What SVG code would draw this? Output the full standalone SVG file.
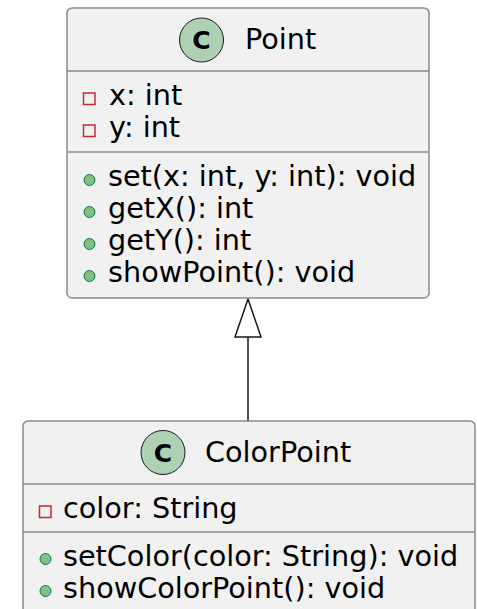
<svg xmlns="http://www.w3.org/2000/svg" width="477" height="609" viewBox="0 0 477 609">
<style>
.box{fill:#F1F1F1;stroke:#8a8a8a;stroke-width:1.5}
.sep{stroke:#8a8a8a;stroke-width:1.5}
.t{font-family:"DejaVu Sans",sans-serif;font-size:28.7px;fill:#000}
.ci{fill:#ADD1B2;stroke:#181818;stroke-width:1}
.cl{font-family:"DejaVu Sans",sans-serif;font-size:25px;font-weight:bold;fill:#000;text-anchor:middle}
.priv{fill:none;stroke:#C82930;stroke-width:1.5}
.pub{fill:#84BE84;stroke:#038048;stroke-width:1}
.edge{stroke:#181818;stroke-width:1.5;fill:none}
.head{fill:#fff;stroke:#181818;stroke-width:1.5}
</style>
<g id="connectors">
<line class="edge" x1="248" y1="337" x2="248" y2="421"/>
<polygon class="head" points="248,299 235,337 261,337"/>
</g>
<g id="Point">
<rect class="box" x="67" y="8" width="362" height="290" rx="5"/>
<line class="sep" x1="67" y1="71" x2="429" y2="71"/>
<line class="sep" x1="67" y1="152" x2="429" y2="152"/>
<circle class="ci" cx="201.5" cy="40" r="22"/>
<text class="cl" x="201.5" y="49">C</text>
<text class="t" x="245" y="49">Point</text>
<rect class="priv" x="83.5" y="93" width="11.5" height="11.5"/>
<text class="t" x="109" y="105">x: int</text>
<rect class="priv" x="83.5" y="125" width="11.5" height="11.5"/>
<text class="t" x="109" y="137">y: int</text>
<circle class="pub" cx="89.5" cy="180" r="5.5"/>
<text class="t" x="108" y="186">set(x: int, y: int): void</text>
<circle class="pub" cx="89.5" cy="212" r="5.5"/>
<text class="t" x="108" y="218">getX(): int</text>
<circle class="pub" cx="89.5" cy="244" r="5.5"/>
<text class="t" x="108" y="250">getY(): int</text>
<circle class="pub" cx="89.5" cy="276" r="5.5"/>
<text class="t" x="108" y="282">showPoint(): void</text>
</g>
<g id="ColorPoint">
<rect class="box" x="23" y="421" width="452" height="220" rx="5"/>
<line class="sep" x1="23" y1="484" x2="475" y2="484"/>
<line class="sep" x1="23" y1="532" x2="475" y2="532"/>
<circle class="ci" cx="163" cy="452.5" r="22"/>
<text class="cl" x="163" y="461.5">C</text>
<text class="t" x="205" y="462">ColorPoint</text>
<rect class="priv" x="39.5" y="506" width="11.5" height="11.5"/>
<text class="t" x="63" y="518">color: String</text>
<circle class="pub" cx="45.5" cy="559" r="5.5"/>
<text class="t" x="63" y="566">setColor(color: String): void</text>
<circle class="pub" cx="45.5" cy="591" r="5.5"/>
<text class="t" x="63" y="598">showColorPoint(): void</text>
</g>
</svg>
